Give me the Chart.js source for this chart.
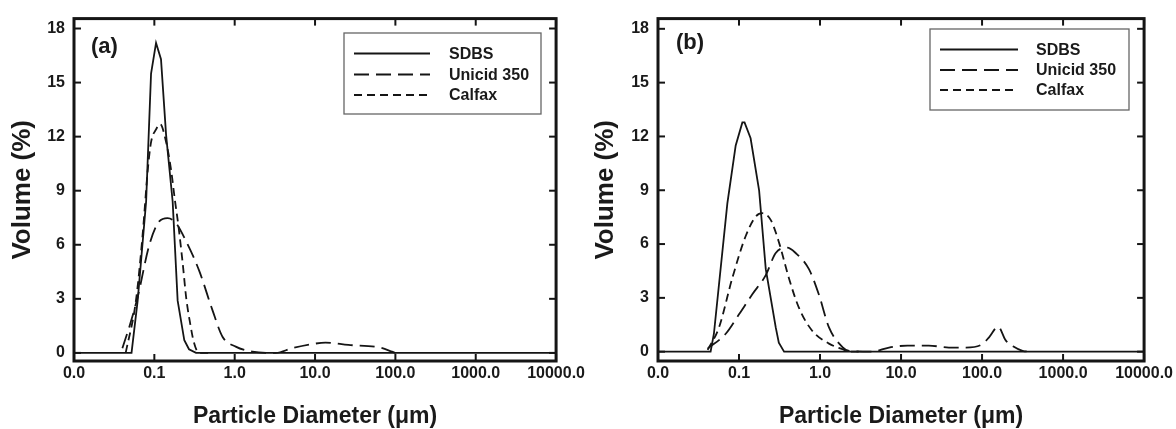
<!DOCTYPE html>
<html>
<head>
<meta charset="utf-8">
<script src="https://cdn.jsdelivr.net/npm/chart.js@4.4.1/dist/chart.umd.min.js"></script>
<style>
  html,body{margin:0;padding:0;background:#fff;}
  #wrap{position:relative;width:1176px;height:429px;overflow:hidden;}
  canvas{position:absolute;top:0;}
</style>
</head>
<body>
<div id="wrap">
  <canvas id="cA" width="588" height="429" style="left:0px"></canvas>
  <canvas id="cB" width="596" height="429" style="left:580px"></canvas>
</div>
<script>
// ---------- tick definitions ----------
const xTickValues = [0.01, 0.1, 1, 10, 100, 1000, 10000];
const xTickLabels = ["0.0", "0.1", "1.0", "10.0", "100.0", "1000.0", "10000.0"];
const yTickValues = [0, 3, 6, 9, 12, 15, 18];
const seriesNames = ["SDBS", "Unicid 350", "Calfax"];
const xTitle = "Particle Diameter (\u03bcm)";
const yTitle = "Volume (%)";

// ---------- panel (a) ----------
const aSdbsX = [0.01, 0.052, 0.062, 0.079, 0.091, 0.105, 0.121, 0.14, 0.169, 0.195, 0.236, 0.27, 0.33, 10000];
const aSdbsY = [0, 0, 2.9, 8.4, 15.5, 17.2, 16.3, 12.1, 8.4, 2.9, 0.7, 0.2, 0, 0];
const aUniX = [0.040, 0.05, 0.062, 0.0867, 0.115, 0.146, 0.186, 0.248, 0.362, 0.53, 0.705, 1.03, 1.66, 3.25, 5.2, 9.25, 13.5, 26, 62, 91, 100, 120];
const aUniY = [0.26, 1.6, 3.1, 6.0, 7.3, 7.48, 7.2, 6.2, 4.55, 2.36, 0.9, 0.35, 0.07, 0.0, 0.26, 0.49, 0.57, 0.44, 0.31, 0.07, 0, 0];
const aCalX = [0.044, 0.059, 0.0716, 0.083, 0.091, 0.105, 0.118, 0.14, 0.161, 0.18, 0.2, 0.225, 0.25, 0.28, 0.31, 0.36, 0.5];
const aCalY = [0, 2.9, 6.6, 10.2, 11.7, 12.4, 12.7, 11.7, 10.2, 8.5, 7.0, 5.0, 3.0, 1.6, 0.6, 0, 0];

// ---------- panel (b) ----------
const bSdbsX = [0.01, 0.0446, 0.049, 0.0718, 0.091, 0.11, 0.117, 0.139, 0.177, 0.214, 0.284, 0.31, 0.36, 10000];
const bSdbsY = [0, 0, 1.0, 8.27, 11.5, 12.78, 12.78, 11.9, 9.0, 4.6, 1.35, 0.5, 0, 0];
const bUniX = [0.041, 0.0686, 0.1, 0.146, 0.214, 0.284, 0.394, 0.5, 0.73, 0.97, 1.29, 1.89, 2.28, 4.4, 7.1, 12, 22, 39, 63, 100, 122, 158, 196, 241, 316, 400];
const bUniY = [0.17, 1.0, 2.08, 3.2, 4.27, 5.5, 5.8, 5.5, 4.6, 3.17, 1.35, 0.26, 0.05, 0, 0.23, 0.34, 0.34, 0.23, 0.23, 0.41, 0.8, 1.39, 0.63, 0.3, 0.05, 0];
const bCalX = [0.041, 0.0566, 0.0826, 0.121, 0.161, 0.194, 0.246, 0.312, 0.414, 0.55, 0.80, 1.29, 1.89, 2.3, 3.0];
const bCalY = [0.1, 1.35, 4.1, 6.45, 7.54, 7.72, 7.35, 6.08, 4.08, 2.44, 1.17, 0.45, 0.14, 0, 0];

const FONT = "'Liberation Sans', Arial, Helvetica, sans-serif";
const INK = '#151515';
const dashes = [[], [15, 7], [8, 5]];

function pairs(xs, ys) { return xs.map((x, i) => ({x: x, y: ys[i]})); }

const framePlugin = {
  id: 'frame',
  afterDatasetsDraw(chart, args, o) {
    const ctx = chart.ctx;
    const {left, right, top, bottom} = chart.chartArea;
    const xs = chart.scales.x, ys = chart.scales.y;
    ctx.save();
    ctx.strokeStyle = INK;
    ctx.lineCap = 'butt';
    ctx.lineWidth = 2;
    const seg = (x1, y1, x2, y2) => { ctx.beginPath(); ctx.moveTo(x1, y1); ctx.lineTo(x2, y2); ctx.stroke(); };
    xs.ticks.forEach(t => {
      const px = xs.getPixelForValue(t.value);
      seg(px, bottom, px, bottom - 7);
      seg(px, top, px, top + 7);
    });
    ys.ticks.forEach(t => {
      const py = ys.getPixelForValue(t.value);
      seg(left, py, left + 7, py);
      seg(right, py, right - 7, py);
    });
    ctx.lineWidth = 3;
    ctx.strokeRect(left, top, right - left, bottom - top);

    // legend box
    const L = o.legend;
    ctx.lineWidth = 1.3;
    ctx.strokeStyle = '#666';
    ctx.strokeRect(L.x, L.y, L.w, L.h);
    ctx.font = "bold 16px " + FONT;
    ctx.fillStyle = '#1a1a1a';
    ctx.textBaseline = 'middle';
    ctx.textAlign = 'left';
    chart.data.datasets.forEach((ds, i) => {
      const ry = L.rows[i];
      ctx.strokeStyle = INK;
      ctx.lineWidth = 1.8;
      ctx.setLineDash(ds.borderDash || []);
      seg(L.sx, ry, L.ex, ry);
      ctx.setLineDash([]);
      ctx.fillText(ds.label, L.tx, ry + 1);
    });

    // panel label
    ctx.font = "bold 22px " + FONT;
    ctx.fillStyle = '#1a1a1a';
    ctx.fillText(o.label, o.labelX, o.labelY);
    ctx.restore();
  }
};

function makeChart(id, series, cfg) {
  const datasets = series.map((s, i) => ({
    label: seriesNames[i],
    data: pairs(s[0], s[1]),
    borderColor: INK,
    borderWidth: 1.8,
    borderDash: dashes[i],
    pointRadius: 0,
    fill: false,
    tension: 0,
    cubicInterpolationMode: i === 0 ? 'default' : 'monotone'
  }));
  return new Chart(document.getElementById(id), {
    type: 'line',
    data: {datasets: datasets},
    plugins: [framePlugin],
    options: {
      responsive: false,
      animation: false,
      devicePixelRatio: 1,
      layout: {autoPadding: false, padding: {left: 0, right: cfg.padRight, top: cfg.padTop, bottom: 0}},
      plugins: {
        legend: {display: false},
        tooltip: {enabled: false},
        frame: cfg.frame
      },
      scales: {
        x: {
          type: 'logarithmic',
          min: 0.01, max: 10000,
          afterBuildTicks: s => { s.ticks = xTickValues.map(v => ({value: v, major: true})); },
          afterFit: s => { s.height = 68; },
          grid: {display: false, drawTicks: false},
          border: {display: false},
          ticks: {
            autoSkip: false, maxRotation: 0, minRotation: 0, padding: 3,
            color: '#1a1a1a',
            font: {family: FONT, size: 16, weight: 'bold'},
            callback: (v, i) => xTickLabels[i]
          },
          title: {
            display: true, text: xTitle, color: '#1a1a1a',
            font: {family: FONT, size: 23, weight: 'bold', lineHeight: 1},
            padding: {top: 0, bottom: 1}
          }
        },
        y: {
          type: 'linear',
          min: cfg.yMin, max: cfg.yMax,
          afterBuildTicks: s => { s.ticks = yTickValues.map(v => ({value: v})); },
          afterFit: s => { s.width = cfg.yWidth; },
          grid: {display: false, drawTicks: false},
          border: {display: false},
          ticks: {
            padding: 9,
            color: '#1a1a1a',
            font: {family: FONT, size: 16, weight: 'bold'},
            callback: v => String(v)
          },
          title: {
            display: true, text: yTitle, color: '#1a1a1a',
            font: {family: FONT, size: 26, weight: 'bold'},
            padding: {top: cfg.yTitlePad, bottom: 0}
          }
        }
      }
    }
  });
}

makeChart('cA', [[aSdbsX, aSdbsY], [aUniX, aUniY], [aCalX, aCalY]], {
  padRight: 31, padTop: 15, yWidth: 74, yMin: -0.45, yMax: 18.55, yTitlePad: 7,
  frame: {label: '(a)', labelX: 91, labelY: 47,
    legend: {x: 344, y: 33, w: 197, h: 81, rows: [53.5, 74.5, 95], sx: 354, ex: 430, tx: 449}}
});
makeChart('cB', [[bSdbsX, bSdbsY], [bUniX, bUniY], [bCalX, bCalY]], {
  padRight: 31, padTop: 11, yWidth: 78, yMin: -0.52, yMax: 18.57, yTitlePad: 10,
  frame: {label: '(b)', labelX: 96, labelY: 43,
    legend: {x: 350, y: 29, w: 199, h: 81, rows: [49.5, 70, 90], sx: 360, ex: 438, tx: 456}}
});
</script>
</body>
</html>
